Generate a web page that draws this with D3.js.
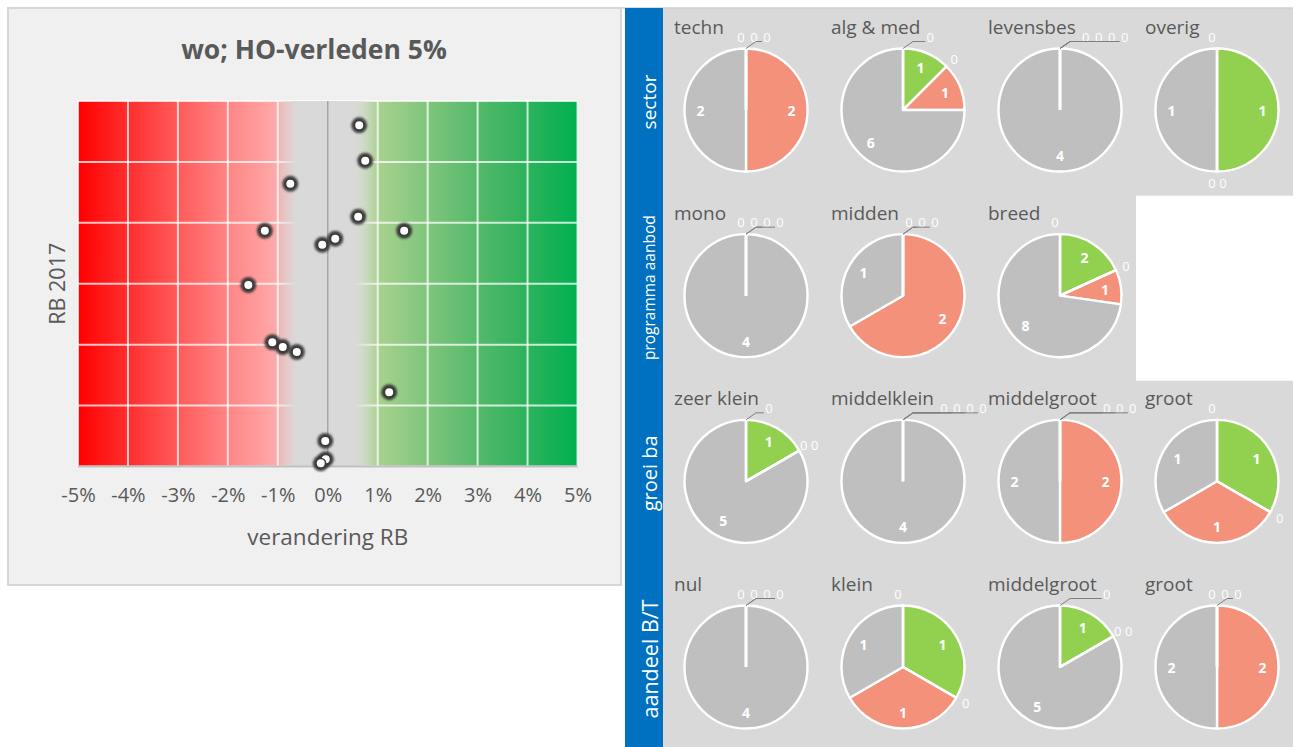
<!DOCTYPE html>
<html><head><meta charset="utf-8">
<script src="https://cdn.jsdelivr.net/npm/d3@7"></script>
<style>
body{margin:0;background:#fff;}
svg{display:block;font-family:'Open Sans',sans-serif;}
</style>
</head><body>
<svg id="c" width="1299" height="747"></svg>
<script>
// ---------- DATA ----------
const chartTitle = "wo; HO-verleden 5%";
const xTitle = "verandering RB";
const yTitle = "RB 2017";
// verandering RB (%)
const scatterX = [0.63, 0.75, -0.75, 0.61, -1.26, 1.53, 0.15, -0.11, -1.59, -1.11, -0.90, -0.62, 1.23, -0.05, -0.04, -0.14];
// RB 2017 (fraction)
const scatterY = [0.280, 0.251, 0.232, 0.205, 0.1935, 0.1935, 0.187, 0.182, 0.149, 0.102, 0.098, 0.094, 0.061, 0.021, 0.006, 0.0026];
const xTicks = [-5, -4, -3, -2, -1, 0, 1, 2, 3, 4, 5];
const yTicks = [0, 0.05, 0.10, 0.15, 0.20, 0.25, 0.30];

const sectionNames = ["sector", "programma aanbod", "groei ba", "aandeel B/T"];
const categories = ["sterke stijging", "stijging", "sterke daling", "daling", "stabiel"];
const sectorTitles = ["techn", "alg & med", "levensbes", "overig"];
const sectorValues = [[0,0,0,2,2],[0,1,0,1,6],[0,0,0,0,4],[0,1,0,0,1]];
const programmaTitles = ["mono", "midden", "breed"];
const programmaValues = [[0,0,0,0,4],[0,0,0,2,1],[0,2,0,1,8]];
const groeiTitles = ["zeer klein", "middelklein", "middelgroot", "groot"];
const groeiValues = [[0,1,0,0,5],[0,0,0,0,4],[0,0,0,2,2],[0,1,0,1,1]];
const aandeelTitles = ["nul", "klein", "middelgroot", "groot"];
const aandeelValues = [[0,0,0,0,4],[0,1,0,1,1],[0,1,0,0,5],[0,0,0,2,2]];

// ---------- STYLE ----------
const catColors = ["#00b050", "#92d050", "#f8cbad", "#f4917b", "#bfbfbf"];
const textGray = "#595959";

const svg = d3.select("#c");
const defs = svg.append("defs");

// ================= LEFT: scatter =================
svg.append("rect").attr("x", 8).attr("y", 8).attr("width", 613).attr("height", 577)
  .attr("fill", "#f0f0f0").attr("stroke", "#d6d6d6").attr("stroke-width", 2);

const pL = 78, pR = 577.5, pT = 101, pB = 466.5;
const x = d3.scaleLinear().domain([-5, 5]).range([pL, pR]);
const y = d3.scaleLinear().domain([0, 0.30]).range([pB, pT]);
const off = v => (x(v) - pL) / (pR - pL);

const bgGrad = defs.append("linearGradient").attr("id", "bgGrad");
[[-5,"#ff0000"],[-4,"#ff2e2e"],[-3,"#ff5a5a"],[-2,"#ff8585"],[-1.2,"#ffa3a3"],[-0.7,"#ecbcbc"],
 [0.5,"#cfe0c2"],[1.0,"#a9d18e"],[2,"#7fc57d"],[3,"#55b96a"],[4,"#2cb25c"],[5,"#00b050"]]
 .forEach(([v,c]) => bgGrad.append("stop").attr("offset", off(v)).attr("stop-color", c));

svg.append("rect").attr("x", pL).attr("y", pT).attr("width", pR - pL).attr("height", pB - pT)
  .attr("fill", "url(#bgGrad)");

// gridlines
const grid = svg.append("g");
grid.selectAll(".vg").data(xTicks).join("line")
  .attr("x1", d => x(d)).attr("x2", d => x(d)).attr("y1", pT).attr("y2", pB)
  .attr("stroke", "#ffffff").attr("stroke-opacity", 0.75).attr("stroke-width", 2);
grid.selectAll(".hg").data(yTicks).join("line")
  .attr("x1", pL).attr("x2", pR).attr("y1", d => y(d)).attr("y2", d => y(d))
  .attr("stroke", "#ffffff").attr("stroke-opacity", 0.75).attr("stroke-width", 2);

// neutral gray band overlay
const gL = -1.05, gR = 1.0;
const grayGrad = defs.append("linearGradient").attr("id", "grayGrad");
const goff = v => (v - gL) / (gR - gL);
[[gL,0],[-0.62,1],[0.52,1],[gR,0]].forEach(([v,o]) =>
  grayGrad.append("stop").attr("offset", goff(v)).attr("stop-color", "#d9d9d9").attr("stop-opacity", o));
svg.append("rect").attr("x", x(gL)).attr("y", pT).attr("width", x(gR) - x(gL)).attr("height", pB - pT)
  .attr("fill", "url(#grayGrad)");

// zero line + bottom axis line
svg.append("line").attr("x1", x(0)).attr("x2", x(0)).attr("y1", pT).attr("y2", pB)
  .attr("stroke", "#a6a6a6").attr("stroke-width", 1.5);
svg.append("line").attr("x1", pL).attr("x2", pR).attr("y1", pB).attr("y2", pB)
  .attr("stroke", "#bfbfbf").attr("stroke-width", 2);

// x axis
const xAxis = svg.append("g").attr("transform", `translate(0,${pB})`)
  .call(d3.axisBottom(x).tickValues(xTicks).tickFormat(d => d + "%").tickSize(0).tickPadding(21));
xAxis.select(".domain").remove();
xAxis.selectAll("text").attr("fill", textGray).attr("font-size", 20).attr("font-family", "'Open Sans',sans-serif");

// titles
svg.append("text").attr("x", 314).attr("y", 59).attr("text-anchor", "middle")
  .attr("font-size", 26.5).attr("font-weight", 700).attr("fill", textGray).text(chartTitle);
svg.append("text").attr("x", x(0)).attr("y", 545).attr("text-anchor", "middle")
  .attr("font-size", 22.5).attr("fill", textGray).text(xTitle);
svg.append("text").attr("transform", `translate(65,${(pT + pB) / 2}) rotate(-90)`)
  .attr("text-anchor", "middle").attr("font-size", 21.5).attr("fill", textGray).text(yTitle);

// points
const blur = defs.append("filter").attr("id", "blur").attr("x", "-50%").attr("y", "-50%").attr("width", "200%").attr("height", "200%");
blur.append("feGaussianBlur").attr("stdDeviation", 1.2);
const pts = scatterX.map((v, i) => ({ x: v, y: scatterY[i] }));
svg.append("g").selectAll("circle").data(pts).join("circle")
  .attr("cx", d => x(d.x)).attr("cy", d => y(d.y)).attr("r", 8)
  .attr("fill", "#333333").attr("opacity", 0.9).attr("filter", "url(#blur)");
svg.append("g").selectAll("circle").data(pts).join("circle")
  .attr("cx", d => x(d.x)).attr("cy", d => y(d.y)).attr("r", 4.8)
  .attr("fill", "#ffffff").attr("stroke", "#3a3a3a").attr("stroke-width", 1.6);

// ================= RIGHT: pies =================
svg.append("rect").attr("x", 663).attr("y", 8).attr("width", 630).attr("height", 739).attr("fill", "#d9d9d9");
svg.append("line").attr("x1", 621).attr("x2", 1293).attr("y1", 8).attr("y2", 8).attr("stroke", "#cfcfcf").attr("stroke-width", 1.5);
svg.append("rect").attr("x", 625).attr("y", 8).attr("width", 38).attr("height", 739).attr("fill", "#0070c0");

const sections = [
  { name: sectionNames[0], titles: sectorTitles, values: sectorValues, fs: 19 },
  { name: sectionNames[1], titles: programmaTitles, values: programmaValues, fs: 15.5 },
  { name: sectionNames[2], titles: groeiTitles, values: groeiValues, fs: 20 },
  { name: sectionNames[3], titles: aandeelTitles, values: aandeelValues, fs: 21.5 }
];

const colX = d3.scalePoint().domain([0, 1, 2, 3]).range([746, 1217]);
const rowY = d3.scalePoint().domain([0, 1, 2, 3]).range([110, 667]);
const R = 61.5;
const pie = d3.pie().sort(null).value(d => d);
const arc = d3.arc().innerRadius(0).outerRadius(R);

sections.forEach((sec, row) => {
  const cy = rowY(row);
  svg.append("text").attr("transform", `translate(649,${cy - 8}) rotate(-90)`)
    .attr("text-anchor", "middle").attr("dominant-baseline", "central")
    .attr("font-size", sec.fs).attr("fill", "#ffffff").text(sec.name);

  for (let col = 0; col < 4; col++) {
    const cx = colX(col);
    if (col >= sec.titles.length) {
      svg.append("rect").attr("x", cx - 81).attr("y", cy - 100).attr("width", 163).attr("height", 185)
        .attr("fill", "#ffffff");
      continue;
    }
    const g = svg.append("g").attr("transform", `translate(${cx},${cy})`);
    const title = g.append("text").attr("x", -72).attr("y", -76).attr("font-size", 19).attr("fill", textGray)
      .text(sec.titles[col]);
    const titleEnd = -72 + title.node().getComputedTextLength();
    const arcs = pie(sec.values[col]);
    const nonZero = arcs.filter(a => a.value > 0);
    const zero = arcs.filter(a => a.value === 0);
    g.selectAll(".slice").data(nonZero).join("path")
      .attr("d", arc).attr("fill", a => catColors[a.index])
      .attr("stroke", "#ffffff").attr("stroke-width", 2.4).attr("stroke-linejoin", "round");
    g.selectAll(".zslice").data(zero).join("path")
      .attr("d", arc).attr("fill", "none")
      .attr("stroke", "#ffffff").attr("stroke-width", 2.4);
    // value labels
    g.selectAll(".vl").data(nonZero).join("text")
      .attr("x", a => Math.sin((a.startAngle + a.endAngle) / 2) * R * 0.74)
      .attr("y", a => -Math.cos((a.startAngle + a.endAngle) / 2) * R * 0.74)
      .attr("text-anchor", "middle").attr("dominant-baseline", "central")
      .attr("font-size", 14).attr("font-weight", 700).attr("fill", "#ffffff")
      .text(a => a.value);
    // zero labels, grouped by angle
    const groups = d3.groups(zero, a => a.startAngle.toFixed(4));
    groups.forEach(([key, list]) => {
      const ang = +key;
      const ex = Math.sin(ang) * R, ey = -Math.cos(ang) * R;
      const isTop = Math.abs(ang) < 1e-6 || Math.abs(ang - 2 * Math.PI) < 1e-6;
      if (isTop) {
        const startX = Math.max(-5, titleEnd + 10);
        const ly = -R - 12;
        list.forEach((a, i) => {
          const lx = startX + i * (i >= 1 && list.length > 2 ? 13 : 11);
          if (lx > 9) {
            g.append("path").attr("d", `M${ex},${ey} L${Math.min(lx - 8, ex + 10)},${ly + 5} L${lx - 5},${ly + 5}`)
              .attr("fill", "none").attr("stroke", "#7f7f7f").attr("stroke-width", 1);
          }
          g.append("text").attr("x", lx).attr("y", ly)
            .attr("text-anchor", "middle").attr("dominant-baseline", "central")
            .attr("font-size", 13).attr("fill", "#ffffff").text(a.value);
        });
      } else {
        const bx = Math.sin(ang) * (R + 11), by = -Math.cos(ang) * (R + 11);
        list.forEach((a, i) => {
          const lx = list.length === 1 ? bx : bx - 5 + i * 11;
          g.append("text").attr("x", lx).attr("y", by)
            .attr("text-anchor", "middle").attr("dominant-baseline", "central")
            .attr("font-size", 13).attr("fill", "#ffffff").text(a.value);
        });
      }
    });
  }
});
</script>
</body></html>
